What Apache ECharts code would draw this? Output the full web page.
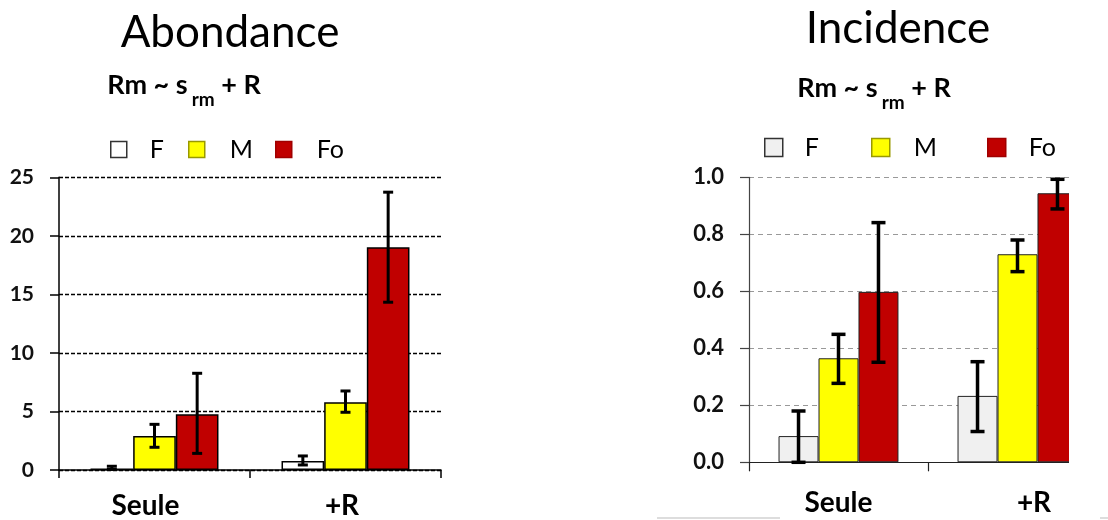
<!DOCTYPE html>
<html><head><meta charset="utf-8">
<script src="https://cdn.jsdelivr.net/npm/echarts@6/dist/echarts.min.js"></script>
<style>html,body{margin:0;padding:0;background:#fff}#c{width:1108px;height:520px}</style>
</head><body><div id="c"></div>
<script>
// ---- data ----
const categories = ['Seule', '+R'];
const seriesNames = ['F', 'M', 'Fo'];
const abF = [0.13, 0.77];
const abM = [2.9, 5.78];
const abFo = [4.76, 19.03];
const abF_err = [[0.05, 0.32], [0.43, 1.2]];
const abM_err = [[1.94, 3.9], [4.93, 6.75]];
const abFo_err = [[1.42, 8.26], [14.33, 23.73]];
const incF = [0.092, 0.233];
const incM = [0.365, 0.73];
const incFo = [0.598, 0.944];
const incF_err = [[0.0, 0.18], [0.108, 0.353]];
const incM_err = [[0.277, 0.449], [0.669, 0.78]];
const incFo_err = [[0.351, 0.841], [0.889, 0.993]];
const abTicks = [0, 5, 10, 15, 20, 25];
const incTicks = [0, 0.2, 0.4, 0.6, 0.8, 1.0];

const FONT = 'Lato';
const GAP = 0.33;
const chart = echarts.init(document.getElementById('c'));

function errSeries(name, xi, yi, k, errs, capW, lw) {
  return {
    type: 'custom', name: name + '_err', xAxisIndex: xi, yAxisIndex: yi, z: 5,
    data: errs.map((e, i) => [i, e[0], e[1]]),
    renderItem: function (params, api) {
      const cat = api.value(0), lo = api.value(1), hi = api.value(2);
      const band = api.size([1, 0])[0];
      const bw = band * (1 - GAP) / 3;
      const x = api.coord([cat, 0])[0] + (k - 1) * bw;
      const y1 = api.coord([cat, lo])[1], y2 = api.coord([cat, hi])[1];
      const st = { stroke: '#000', lineWidth: lw };
      return { type: 'group', children: [
        { type: 'line', shape: { x1: x, y1: y1, x2: x, y2: y2 }, style: st },
        { type: 'line', shape: { x1: x - capW / 2, y1: y1, x2: x + capW / 2, y2: y1 }, style: st },
        { type: 'line', shape: { x1: x - capW / 2, y1: y2, x2: x + capW / 2, y2: y2 }, style: st }
      ]};
    }
  };
}

function catData(offsets) {
  return categories.map((c, i) => ({ value: c, textStyle: { padding: offsets[i] } }));
}

const leftColors = ['#ffffff', '#ffff00', '#c00000'];
const rightColors = ['#f0f0f0', '#ffff00', '#c00000'];
const abVals = [abF, abM, abFo], abErrs = [abF_err, abM_err, abFo_err];
const incVals = [incF, incM, incFo], incErrs = [incF_err, incM_err, incFo_err];

const series = [];
seriesNames.forEach((n, k) => {
  series.push({ type: 'bar', name: n, xAxisIndex: 0, yAxisIndex: 0, data: abVals[k],
    barGap: '0%', barCategoryGap: (GAP * 100) + '%',
    itemStyle: { color: leftColors[k], borderColor: '#000', borderWidth: 1.5 } });
});
seriesNames.forEach((n, k) => {
  series.push({ type: 'bar', name: n, xAxisIndex: 1, yAxisIndex: 1, data: incVals[k],
    barGap: '0%', barCategoryGap: (GAP * 100) + '%',
    itemStyle: { color: rightColors[k], borderColor: '#222', borderWidth: 1 } });
});
seriesNames.forEach((n, k) => series.push(errSeries(n + 'L', 0, 0, k, abErrs[k], 10, 3)));
seriesNames.forEach((n, k) => series.push(errSeries(n + 'R', 1, 1, k, incErrs[k], 14, 3.5)));

const legendBorders = ['#333', '#999900', '#a00000'];
function legend(i, left, top, size, fill, gap) {
  return { data: [{ name: seriesNames[i], itemStyle: { color: fill[i], borderColor: legendBorders[i], borderWidth: 1.5 } }],
    left: left, top: top, padding: 0, icon: 'rect', itemWidth: size, itemHeight: size,
    selectedMode: false,
    textStyle: { fontFamily: FONT, fontSize: 25, color: '#000', padding: [0, 0, 0, gap] } };
}

const option = {
  animation: false,
  backgroundColor: '#fff',
  grid: [
    { left: 59, top: 177.3, width: 382, height: 292.7, containLabel: false },
    { left: 749, top: 177.3, width: 358, height: 285, containLabel: false }
  ],
  legend: [
    legend(0, 110, 137, 16, leftColors, 18), legend(1, 188, 137, 16, leftColors, 20), legend(2, 275, 137, 16, leftColors, 20),
    legend(0, 764, 135, 18, rightColors, 17), legend(1, 871, 135, 18, rightColors, 19), legend(2, 987, 135, 18, rightColors, 18)
  ],
  xAxis: [
    { type: 'category', gridIndex: 0, data: catData([[0, 18, 0, 0], [0, 7, 0, 0]]),
      axisLine: { lineStyle: { color: '#000', width: 1.5 } },
      axisTick: { show: true, length: 8, lineStyle: { color: '#000', width: 1.5 } },
      axisLabel: { margin: 22, fontFamily: FONT, fontWeight: 'bold', fontSize: 28, color: '#000' } },
    { type: 'category', gridIndex: 1, data: catData([[0, 0, 0, 0], [0, 0, 0, 33]]),
      axisLine: { lineStyle: { color: '#222', width: 1.2 } },
      axisTick: { show: true, length: 9, lineStyle: { color: '#222', width: 1.2 } },
      axisLabel: { margin: 27, fontFamily: FONT, fontWeight: 'bold', fontSize: 28, color: '#000' } }
  ],
  yAxis: [
    { type: 'value', gridIndex: 0, min: abTicks[0], max: abTicks[abTicks.length - 1], interval: abTicks[1] - abTicks[0],
      axisLine: { show: true, lineStyle: { color: '#000', width: 1.5 } },
      axisTick: { show: true, length: 9, lineStyle: { color: '#000', width: 1.5 } },
      axisLabel: { margin: 25, fontFamily: FONT, fontWeight: 'bold', fontSize: 21, color: '#111' },
      splitLine: { show: true, lineStyle: { color: '#000', type: [4, 2], width: 1.3 } } },
    { type: 'value', gridIndex: 1, min: incTicks[0], max: incTicks[incTicks.length - 1], interval: 0.2,
      axisLine: { show: true, lineStyle: { color: '#444', width: 1.2 } },
      axisTick: { show: true, length: 9, lineStyle: { color: '#444', width: 1.2 } },
      axisLabel: { margin: 25, fontFamily: FONT, fontWeight: 'bold', fontSize: 22, color: '#111',
        formatter: v => v.toFixed(1) },
      splitLine: { show: true, lineStyle: { color: '#999', type: [5, 4], width: 1 } } }
  ],
  graphic: [
    { type: 'text', x: 230, y: 33, z: 10, style: { text: 'Abondance', fontFamily: FONT, fontSize: 44, fill: '#000', align: 'center', verticalAlign: 'middle' } },
    { type: 'text', x: 898, y: 29, z: 10, style: { text: 'Incidence', fontFamily: FONT, fontSize: 44, fill: '#000', align: 'center', verticalAlign: 'middle' } },
    { type: 'text', x: 184, y: 85, z: 10, style: { text: '{a|Rm ~ s}{b|rm}{a| + R}', align: 'center', verticalAlign: 'middle',
      rich: { a: { fontFamily: FONT, fontWeight: 'bold', fontSize: 27, color: '#000' },
              b: { fontFamily: FONT, fontWeight: 'bold', fontSize: 19, color: '#000', padding: [30, 0, 0, 4] } } } },
    { type: 'text', x: 874, y: 88, z: 10, style: { text: '{a|Rm ~ s}{b|rm}{a| + R}', align: 'center', verticalAlign: 'middle',
      rich: { a: { fontFamily: FONT, fontWeight: 'bold', fontSize: 27, color: '#000' },
              b: { fontFamily: FONT, fontWeight: 'bold', fontSize: 19, color: '#000', padding: [30, 0, 0, 4] } } } },
    { type: 'rect', z: 100, shape: { x: 1069, y: 165, width: 40, height: 310 }, style: { fill: '#fff' } },
    { type: 'line', z: 100, shape: { x1: 657, y1: 518, x2: 780, y2: 518 }, style: { stroke: '#ddd', lineWidth: 2 } },
    { type: 'line', z: 100, shape: { x1: 1100, y1: 518, x2: 1108, y2: 518 }, style: { stroke: '#ddd', lineWidth: 2 } }
  ],
  series: series
};
chart.setOption(option);
</script></body></html>
